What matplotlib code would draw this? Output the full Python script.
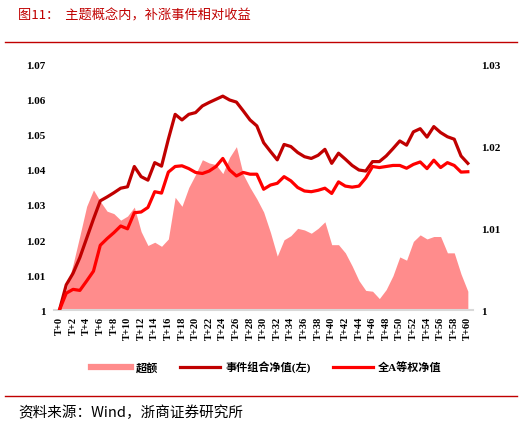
import numpy as np
import matplotlib.pyplot as plt
from matplotlib.lines import Line2D

plt.rcParams['font.family'] = ['Liberation Serif', 'Noto Sans CJK SC', 'DejaVu Sans']

# T+0 .. T+60
days = list(range(61))
day_labels = ['T+%d' % d for d in days]

# 事件组合净值 (left axis)
event_nav = [1.0000, 1.0072, 1.0105, 1.0150, 1.0205, 1.0260, 1.0312, 1.0323, 1.0335, 1.0348,
             1.0352, 1.0410, 1.0381, 1.0371, 1.0421, 1.0411, 1.0488, 1.0559, 1.0543, 1.0559,
             1.0564, 1.0583, 1.0593, 1.0602, 1.0611, 1.0600, 1.0594, 1.0569, 1.0543, 1.0526,
             1.0478, 1.0453, 1.0429, 1.0473, 1.0467, 1.0450, 1.0438, 1.0433, 1.0442, 1.0459,
             1.0419, 1.0448, 1.0431, 1.0413, 1.0400, 1.0397, 1.0424, 1.0424, 1.0440, 1.0461,
             1.0483, 1.0471, 1.0509, 1.0518, 1.0494, 1.0524, 1.0507, 1.0495, 1.0488, 1.0440,
             1.0419]

# 全A等权净值 (left axis)
all_a_nav = [1.0000, 1.0048, 1.0059, 1.0056, 1.0083, 1.0111, 1.0185, 1.0204, 1.0221, 1.0240,
             1.0232, 1.0278, 1.0280, 1.0293, 1.0338, 1.0334, 1.0394, 1.0410, 1.0412, 1.0404,
             1.0393, 1.0390, 1.0397, 1.0410, 1.0433, 1.0400, 1.0383, 1.0393, 1.0388, 1.0388,
             1.0345, 1.0357, 1.0362, 1.0381, 1.0369, 1.0350, 1.0340, 1.0338, 1.0342, 1.0348,
             1.0333, 1.0366, 1.0354, 1.0351, 1.0354, 1.0377, 1.0410, 1.0407, 1.0410, 1.0413,
             1.0413, 1.0405, 1.0416, 1.0423, 1.0404, 1.0428, 1.0407, 1.0421, 1.0413, 1.0394,
             1.0395]

# 超额 (right axis)
excess = [1.0000, 1.0025, 1.0056, 1.0091, 1.0127, 1.0147, 1.0133, 1.0121, 1.0118, 1.0110,
          1.0115, 1.0126, 1.0096, 1.0079, 1.0083, 1.0078, 1.0087, 1.0138, 1.0127, 1.0150,
          1.0166, 1.0184, 1.0180, 1.0178, 1.0167, 1.0187, 1.0200, 1.0166, 1.0150, 1.0136,
          1.0120, 1.0095, 1.0066, 1.0086, 1.0091, 1.0100, 1.0098, 1.0094, 1.0100, 1.0108,
          1.0080, 1.0080, 1.0070, 1.0054, 1.0036, 1.0024, 1.0023, 1.0014, 1.0025, 1.0042,
          1.0065, 1.0061, 1.0084, 1.0092, 1.0087, 1.0090, 1.0090, 1.0070, 1.0070, 1.0044,
          1.0023]

left_ticks = [1.00, 1.01, 1.02, 1.03, 1.04, 1.05, 1.06, 1.07]
right_ticks = [1.00, 1.01, 1.02, 1.03]

c_dark = '#c00000'
c_red = '#ff0000'
c_pink = '#ff8c8c'
c_title = '#c00000'

fig = plt.figure(figsize=(5.32, 4.31), dpi=100)
ax1 = fig.add_axes([0.1015, 0.2784, 0.7875, 0.5685])
ax2 = ax1.twinx()

# area on the right axis, drawn behind the lines
ax1.set_zorder(2)
ax1.patch.set_visible(False)
ax2.fill_between(days, 1.0, excess, color=c_pink, linewidth=0)
ax2.set_ylim(1.0, 1.03)
ax2.set_yticks(right_ticks)

ax1.plot(days, event_nav, color=c_dark, lw=2.3)
ax1.plot(days, all_a_nav, color=c_red, lw=2.3)
ax1.set_ylim(1.0, 1.07)
ax1.set_yticks(left_ticks)
ax1.set_xlim(-0.8, 60.75)
ax1.set_xticks(days[::2])
ax1.set_xticklabels(day_labels[::2], rotation=90)

fmt = lambda v: '%g' % round(v, 2)
ax1.set_yticklabels([fmt(v) for v in left_ticks])
ax2.set_yticklabels([fmt(v) for v in right_ticks])

for ax in (ax1, ax2):
    for s in ax.spines.values():
        s.set_visible(False)
    ax.tick_params(length=0)
ax2.spines['bottom'].set_visible(True)
ax2.spines['bottom'].set_color('#d9d9d9')
ax2.spines['bottom'].set_linewidth(1.5)

ax1.tick_params(axis='y', pad=6, labelsize=8)
ax2.tick_params(axis='y', pad=6, labelsize=8)
ax1.tick_params(axis='x', pad=4, labelsize=7.5)
for lab in ax1.get_xticklabels() + ax1.get_yticklabels() + ax2.get_yticklabels():
    lab.set_fontweight('bold')

handles = [Line2D([], [], color=c_pink, lw=4.5),
           Line2D([], [], color=c_dark, lw=2.3),
           Line2D([], [], color=c_red, lw=2.3)]
fig.legend(handles, ['超额', '事件组合净值(左)', '全A等权净值'],
           loc='center', bbox_to_anchor=(0.5, 0.146), ncol=3, frameon=False,
           handlelength=3.6, handletextpad=0.45, columnspacing=2.0,
           prop={'size': 8, 'weight': 'bold',
                 'family': ['Liberation Serif', 'Noto Sans CJK SC']})

fig.text(0.034, 0.962, '图11：  主题概念内，补涨事件相对收益', color=c_title,
         fontsize=9.5, va='center', ha='left',
         family=['Noto Sans CJK SC', 'DejaVu Sans'])
fig.add_artist(Line2D([0.01, 0.972], [0.9, 0.9], color=c_title, lw=1.0))
fig.add_artist(Line2D([0.01, 0.972], [0.079, 0.079], color=c_title, lw=1.0))
fig.text(0.034, 0.042, '资料来源：Wind，浙商证券研究所', color='black',
         fontsize=10.5, va='center', ha='left',
         family=['Noto Sans CJK SC', 'DejaVu Sans'])

fig.savefig('out.png', dpi=100)
